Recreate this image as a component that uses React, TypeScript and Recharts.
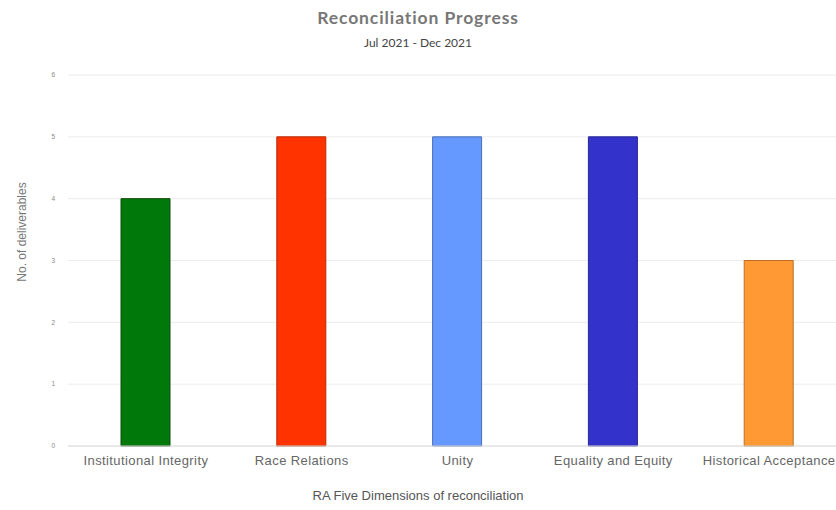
import React from 'react';
import { BarChart, Bar, XAxis, YAxis, CartesianGrid, Cell } from 'recharts';

const dimensions = ['Institutional Integrity', 'Race Relations', 'Unity', 'Equality and Equity', 'Historical Acceptance'];
const deliverables = [4, 5, 5, 5, 3];
const barColors = ['#00780a', '#ff3300', '#6699ff', '#3333cc', '#ff9933'];
const borderColors = ['#0b4d0b', '#b52a00', '#4a6fb8', '#26268f', '#b8702a'];
const yTicks = [0, 1, 2, 3, 4, 5, 6];

const data = dimensions.map((name, i) => ({ name, value: deliverables[i] }));

export default function App() {
  return (
    <div style={{ position: 'fixed', left: 0, top: 0, width: 836, height: 510, overflow: 'hidden', background: '#fff' }}>
      {/* Titles */}
      <div style={{ position: 'absolute', top: 7, left: 0, width: 836, textAlign: 'center', fontFamily: 'Lato, sans-serif', fontSize: 17.5, fontWeight: 700, letterSpacing: 0.9, color: '#777', lineHeight: '22px' }}>
        Reconciliation Progress
      </div>
      <div style={{ position: 'absolute', top: 35, left: 0, width: 836, textAlign: 'center', fontFamily: 'Lato, sans-serif', fontSize: 12, color: '#444', lineHeight: '16px' }}>
        Jul 2021 - Dec 2021
      </div>
      <div style={{ position: 'absolute', left: 22, top: 232, transform: 'translate(-50%, -50%) rotate(-90deg)', whiteSpace: 'nowrap', fontFamily: '"Liberation Sans", sans-serif', fontSize: 12, color: '#777' }}>
        No. of deliverables
      </div>
      <div style={{ position: 'absolute', top: 488, left: 0, width: 836, textAlign: 'center', fontFamily: '"Liberation Sans", sans-serif', fontSize: 13, color: '#555' }}>
        RA Five Dimensions of reconciliation
      </div>

      <BarChart width={860} height={510} data={data} margin={{ top: 75, right: 13, bottom: 0, left: 0 }}>
        <CartesianGrid vertical={false} stroke="#ececec" />
        <XAxis
          dataKey="name"
          height={64}
          tickSize={0}
          tickMargin={10}
          interval={0}
          axisLine={{ stroke: '#dcdcdc' }}
          tick={{ fontFamily: '"Liberation Sans", sans-serif', fontSize: 13, letterSpacing: 0.4, fill: '#666' }}
        />
        <YAxis
          width={68}
          domain={[0, 6]}
          ticks={yTicks}
          tickSize={0}
          tickMargin={13}
          axisLine={false}
          tick={{ fontFamily: '"Liberation Sans", sans-serif', fontSize: 6.5, fill: '#888' }}
        />
        <Bar dataKey="value" barSize={49} isAnimationActive={false}>
          {data.map((d, i) => (
            <Cell key={d.name} fill={barColors[i]} stroke={borderColors[i]} strokeWidth={1} />
          ))}
        </Bar>
      </BarChart>
    </div>
  );
}
